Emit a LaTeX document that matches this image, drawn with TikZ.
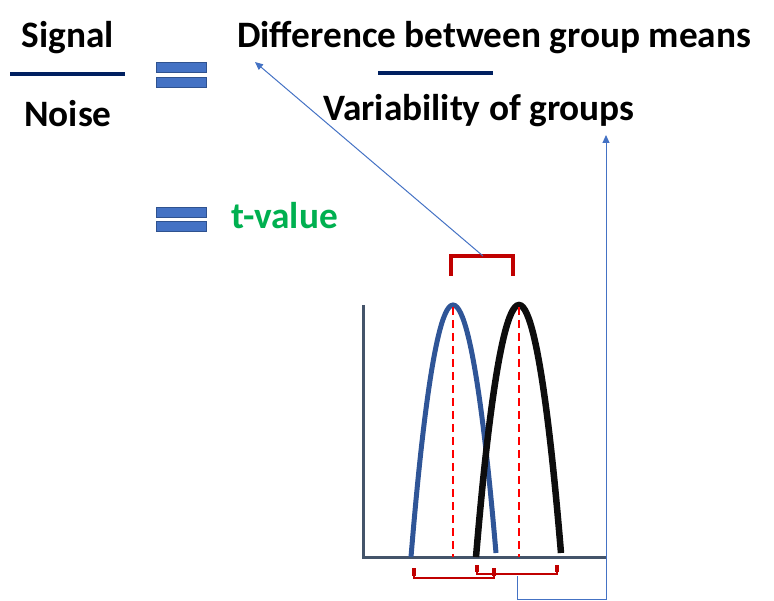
\documentclass[tikz,border=0pt]{standalone}
\usepackage{fontspec}
\setmainfont{Carlito}
\usetikzlibrary{arrows.meta}
\definecolor{navy}{RGB}{0,32,96}
\definecolor{barfill}{RGB}{68,114,196}
\definecolor{bardraw}{RGB}{47,82,143}
\definecolor{linkblue}{RGB}{68,114,196}
\definecolor{axisgray}{RGB}{68,84,106}
\definecolor{curveblue}{RGB}{47,85,151}
\definecolor{brred}{RGB}{192,0,0}
\definecolor{tgreen}{RGB}{0,176,80}
\tikzset{
  lbl/.style={font=\fontsize{37.3}{40}\selectfont\bfseries, inner sep=0pt, anchor=base west},
  lblc/.style={font=\fontsize{37.3}{40}\selectfont\bfseries, inner sep=0pt, anchor=base},
  bar/.style={fill=barfill, draw=bardraw, line width=1pt},
  fracline/.style={navy, line width=3.2pt},
  bracket/.style={brred, line width=3.5pt},
  meanline/.style={red, line width=2.8pt, dash pattern=on 8pt off 5pt},
  link/.style={linkblue, line width=1pt},
}
\begin{document}
\begin{tikzpicture}[x=1pt,y=-1pt]
\useasboundingbox (0,0) rectangle (774,601);
% left fraction
\node[lblc] (signal) at (68,48) {Signal};
\node[lblc] (noise) at (68,127) {Noise};
\draw[fracline] (10,74) -- (125,74);
% equals 1
\draw[bar] (156,63) rectangle (206,73);
\draw[bar] (156,78) rectangle (206,88);
% right fraction
\node[lbl] (diff) at (237,48) {Difference between group means};
\draw[fracline] (378,73) -- (493,73);
\node[lbl] (var) at (323,121) {Variability of groups};
% equals 2
\draw[bar] (156,208) rectangle (206,218);
\draw[bar] (156,222) rectangle (206,232);
\node[lbl, text=tgreen] (tval) at (231,229) {t-value};
% axes
\draw[axisgray, line width=3pt] (363,305) -- (363,557) -- (606,557);
% curves
\draw[curveblue, line width=5pt] (411,557) parabola bend (453,305) (496,553);
\draw[black!95, line width=6.5pt] (476,557) parabola bend (519,305) (561,553);
% mean lines
\draw[meanline] (453,307) -- (453,557);
\draw[meanline] (519,307) -- (519,557);
% brackets
\coordinate (topmid) at (483,256);
\draw[bracket] (451,276) -- (451,256) -- (513,256) -- (513,276);
\draw[brred, line width=2.2pt] (414,568) -- (414,578) -- (494,578) -- (494,568);
\draw[brred, line width=4.5pt] (414,568) -- (414,576);
\draw[brred, line width=4.5pt] (494,568) -- (494,576);
\draw[brred, line width=2.2pt] (477,565) -- (477,574) -- (557,574) -- (557,565);
\draw[brred, line width=4.5pt] (477,565) -- (477,572);
\draw[brred, line width=4.5pt] (557,565) -- (557,572);
\coordinate (botmid) at (517,576);
% links
\coordinate (arrowA) at (255,62);
\coordinate (arrowB) at (606,135);
\draw[link, -{Triangle[length=8pt,width=7pt]}] (topmid) -- (arrowA);
\draw[link, -{Triangle[length=8pt,width=7pt]}] (botmid) -- (517,599) -- (606,599) -- (arrowB);
\end{tikzpicture}
\end{document}
